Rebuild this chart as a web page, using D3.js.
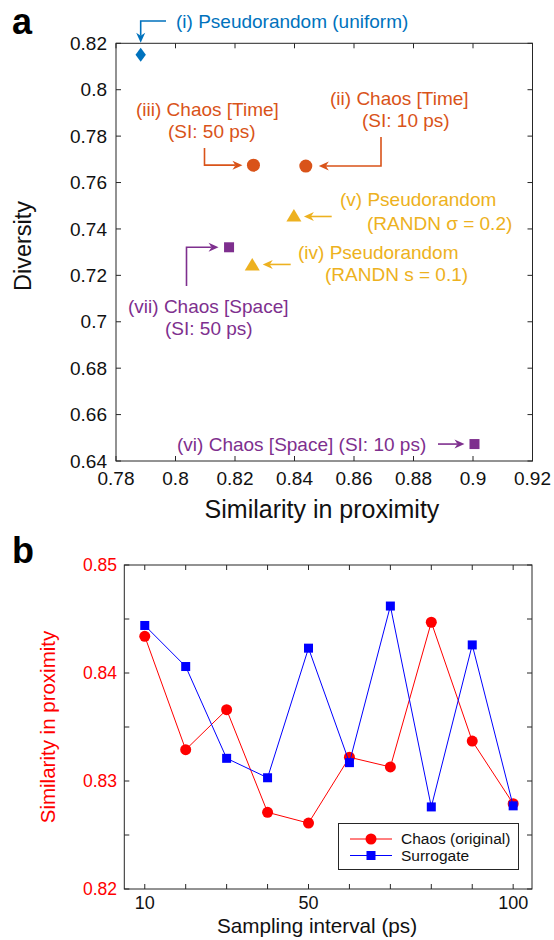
<!DOCTYPE html>
<html>
<head>
<meta charset="utf-8">
<script src="https://cdn.jsdelivr.net/npm/d3@7"></script>
<style>
  body { margin: 0; background: #fff; }
  svg { display: block; }
  text { font-family: "Liberation Sans", Arial, sans-serif; }
</style>
</head>
<body>
<svg id="chart" width="554" height="940"></svg>
<script>
// ---- panel a data ----
const aNames = ['i', 'ii', 'iii', 'iv', 'v', 'vi', 'vii'];
const aSimilarity = [0.7883, 0.8438, 0.8262, 0.8258, 0.8398, 0.9005, 0.8180];
const aDiversity = [0.8151, 0.7671, 0.7675, 0.7247, 0.7458, 0.6473, 0.7321];
const aKind = ['uniform', 'time', 'time', 'randn', 'randn', 'space', 'space'];
const aText = [
  ['(i) Pseudorandom (uniform)'],
  ['(ii) Chaos [Time]', '(SI: 10 ps)'],
  ['(iii) Chaos [Time]', '(SI: 50 ps)'],
  ['(iv) Pseudorandom', '(RANDN s = 0.1)'],
  ['(v) Pseudorandom', '(RANDN \u03c3 = 0.2)'],
  ['(vi) Chaos [Space] (SI: 10 ps)'],
  ['(vii) Chaos [Space]', '(SI: 50 ps)']
];
const aXTicks = [0.78, 0.80, 0.82, 0.84, 0.86, 0.88, 0.90, 0.92];
const aYTicks = [0.64, 0.66, 0.68, 0.70, 0.72, 0.74, 0.76, 0.78, 0.80, 0.82];

// ---- panel b data ----
const bInterval = [10, 20, 30, 40, 50, 60, 70, 80, 90, 100];
const bChaos = [0.8434, 0.8329, 0.8366, 0.8271, 0.8261, 0.8322, 0.8313, 0.8447, 0.8337, 0.8279];
const bSurrogate = [0.8444, 0.8406, 0.8321, 0.8303, 0.8423, 0.8317, 0.8462, 0.8276, 0.8426, 0.8277];
const bXTickLabels = [10, 50, 100];
const bYTickLabels = [0.82, 0.83, 0.84, 0.85];
const bSeriesNames = ['Chaos (original)', 'Surrogate'];

const kindColor = { uniform: '#0072BD', time: '#D95319', randn: '#EDB120', space: '#7E2F8E' };
const kindShape = { uniform: 'diamond', time: 'circle', randn: 'triangle', space: 'square' };
const axisColor = '#262626';

const svg = d3.select('#chart');

function box(g, x, y, color) {
  const [x0, x1] = x.range();
  const [y0, y1] = y.range();
  g.append('rect')
    .attr('x', x0).attr('y', y1)
    .attr('width', x1 - x0).attr('height', y0 - y1)
    .attr('fill', 'none').attr('stroke', color).attr('stroke-width', 1);
}

function ticks(g, x, y, xt, yt, len) {
  const [x0, x1] = x.range();
  const [y0, y1] = y.range();
  xt.forEach((v) => {
    const px = x(v);
    g.append('line').attr('x1', px).attr('x2', px).attr('y1', y0).attr('y2', y0 - len).attr('stroke', axisColor);
    g.append('line').attr('x1', px).attr('x2', px).attr('y1', y1).attr('y2', y1 + len).attr('stroke', axisColor);
  });
  yt.forEach((v) => {
    const py = y(v);
    g.append('line').attr('x1', x0).attr('x2', x0 + len).attr('y1', py).attr('y2', py).attr('stroke', axisColor);
    g.append('line').attr('x1', x1).attr('x2', x1 - len).attr('y1', py).attr('y2', py).attr('stroke', axisColor);
  });
}

function marker(g, shape, cx, cy, color) {
  if (shape === 'circle') {
    g.append('circle').attr('cx', cx).attr('cy', cy).attr('r', 6.5).attr('fill', color);
  } else if (shape === 'square') {
    g.append('rect').attr('x', cx - 5).attr('y', cy - 5).attr('width', 10).attr('height', 10).attr('fill', color);
  } else if (shape === 'diamond') {
    g.append('path').attr('d', `M${cx},${cy - 7}L${cx + 5.2},${cy}L${cx},${cy + 7}L${cx - 5.2},${cy}Z`).attr('fill', color);
  } else if (shape === 'triangle') {
    g.append('path').attr('d', `M${cx},${cy - 6.5}L${cx + 7.5},${cy + 6}L${cx - 7.5},${cy + 6}Z`).attr('fill', color);
  }
}

function arrow(g, pts, color) {
  const line = pts.slice();
  const n = line.length;
  const [tx, ty] = line[n - 1];
  const [sx, sy] = line[n - 2];
  const d = Math.hypot(tx - sx, ty - sy);
  const ux = (tx - sx) / d, uy = (ty - sy) / d;
  const L = 10, W = 4.5;
  const bx = tx - ux * L, by = ty - uy * L;
  const nx = tx - ux * L * 0.7, ny = ty - uy * L * 0.7;
  line[n - 1] = [nx, ny];
  g.append('path').attr('d', d3.line()(line)).attr('fill', 'none').attr('stroke', color).attr('stroke-width', 1.6);
  g.append('path')
    .attr('d', `M${tx},${ty}L${bx - uy * W},${by + ux * W}L${nx},${ny}L${bx + uy * W},${by - ux * W}Z`)
    .attr('fill', color);
}

// ================= panel a =================
const xa = d3.scaleLinear().domain([0.78, 0.92]).range([116, 532.5]);
const ya = d3.scaleLinear().domain([0.64, 0.82]).range([461, 43.3]);
const ga = svg.append('g');

box(ga, xa, ya, axisColor);
ticks(ga, xa, ya, aXTicks, aYTicks, 5);

ga.selectAll('.xt').data(aXTicks).join('text')
  .attr('x', (d) => xa(d)).attr('y', 485)
  .attr('text-anchor', 'middle').attr('font-size', 19).attr('fill', '#111')
  .text((d) => d3.format('')(+d.toFixed(2)));
ga.selectAll('.yt').data(aYTicks).join('text')
  .attr('x', 107).attr('y', (d) => ya(d) + 6.6)
  .attr('text-anchor', 'end').attr('font-size', 19).attr('fill', '#111')
  .text((d) => d3.format('')(+d.toFixed(2)));

ga.append('text').attr('x', 322).attr('y', 518).attr('text-anchor', 'middle')
  .attr('font-size', 25).attr('fill', '#111').text('Similarity in proximity');
ga.append('text').attr('transform', 'translate(31,246) rotate(-90)').attr('text-anchor', 'middle')
  .attr('font-size', 23.5).attr('fill', '#111').text('Diversity');
svg.append('text').attr('x', 12).attr('y', 34).attr('font-size', 36).attr('font-weight', 'bold').text('a');

// annotation layout: text start positions and arrow routes relative to each point
const aLayout = {
  i: { text: [[176, 28]], arrow: (p) => [[166, 21], [p[0], 21], [p[0], p[1] - 12]] },
  ii: { text: [[330, 104.5], [362, 127]], arrow: (p) => [[381, 137], [381, p[1]], [p[0] + 13, p[1]]] },
  iii: { text: [[136, 116], [168, 138]], arrow: (p) => [[204.5, 148], [204.5, p[1]], [p[0] - 11, p[1]]] },
  iv: { text: [[298, 258.6], [325, 281]], arrow: (p) => [[290.7, p[1]], [p[0] + 10.5, p[1]]] },
  v: { text: [[340, 206.3], [367, 229.6]], arrow: (p) => [[331.7, p[1] + 1], [p[0] + 10, p[1] + 1]] },
  vi: { text: [[177, 451]], arrow: (p) => [[438, p[1]], [p[0] - 10, p[1]]] },
  vii: { text: [[128, 313], [165, 335.3]], arrow: (p) => [[186.5, 286], [186.5, p[1]], [p[0] - 10.5, p[1]]] }
};

aNames.forEach((name, i) => {
  const color = kindColor[aKind[i]];
  const p = [xa(aSimilarity[i]), ya(aDiversity[i])];
  const lay = aLayout[name];
  marker(ga, kindShape[aKind[i]], p[0], p[1], color);
  arrow(ga, lay.arrow(p), color);
  aText[i].forEach((t, j) => {
    ga.append('text').attr('x', lay.text[j][0]).attr('y', lay.text[j][1])
      .attr('font-size', 19).attr('fill', color).text(t);
  });
});

// ================= panel b =================
const xb = d3.scaleLinear().domain([5, 104.6]).range([124.3, 532]);
const yb = d3.scaleLinear().domain([0.82, 0.85]).range([889, 565]);
const gb = svg.append('g');

box(gb, xb, yb, axisColor);
ticks(gb, xb, yb, bInterval, d3.range(0.82, 0.8501, 0.005), 5);

gb.selectAll('.xt').data(bXTickLabels).join('text')
  .attr('x', (d) => xb(d)).attr('y', 909)
  .attr('text-anchor', 'middle').attr('font-size', 18).attr('fill', '#111').text((d) => d);
gb.selectAll('.yt').data(bYTickLabels).join('text')
  .attr('x', 117).attr('y', (d) => yb(d) + 6)
  .attr('text-anchor', 'end').attr('font-size', 17.5).attr('fill', '#ff0000')
  .text((d) => d.toFixed(2));

gb.append('text').attr('x', 317).attr('y', 933).attr('text-anchor', 'middle')
  .attr('font-size', 20.7).attr('fill', '#111').text('Sampling interval (ps)');
gb.append('text').attr('transform', 'translate(55,727) rotate(-90)').attr('text-anchor', 'middle')
  .attr('font-size', 20.5).attr('fill', '#ff0000').text('Similarity in proximity');
svg.append('text').attr('x', 12).attr('y', 563).attr('font-size', 36).attr('font-weight', 'bold').text('b');

const bSeries = [
  { name: bSeriesNames[0], values: bChaos, color: '#ff0000', shape: 'circle' },
  { name: bSeriesNames[1], values: bSurrogate, color: '#0000ff', shape: 'square' }
];
const lineB = d3.line().x((d, i) => xb(bInterval[i])).y((d) => yb(d));

function bMarker(g, shape, cx, cy, color) {
  if (shape === 'circle') {
    g.append('circle').attr('cx', cx).attr('cy', cy).attr('r', 5.5).attr('fill', color);
  } else {
    g.append('rect').attr('x', cx - 4.5).attr('y', cy - 4.5).attr('width', 9).attr('height', 9).attr('fill', color);
  }
}

bSeries.forEach((s) => {
  gb.append('path').attr('d', lineB(s.values)).attr('fill', 'none').attr('stroke', s.color).attr('stroke-width', 1);
  s.values.forEach((v, i) => bMarker(gb, s.shape, xb(bInterval[i]), yb(v), s.color));
});

// legend
const lg = gb.append('g');
lg.append('rect').attr('x', 338.5).attr('y', 823.5).attr('width', 180).attr('height', 46)
  .attr('fill', '#fff').attr('stroke', axisColor).attr('stroke-width', 1);
bSeries.forEach((s, i) => {
  const ly = 839 + i * 16.5;
  lg.append('line').attr('x1', 350).attr('x2', 392).attr('y1', ly).attr('y2', ly).attr('stroke', s.color);
  bMarker(lg, s.shape, 371, ly, s.color);
  lg.append('text').attr('x', 401).attr('y', ly + 5.4).attr('font-size', 15.5).attr('fill', '#111').text(s.name);
});
</script>
</body>
</html>
